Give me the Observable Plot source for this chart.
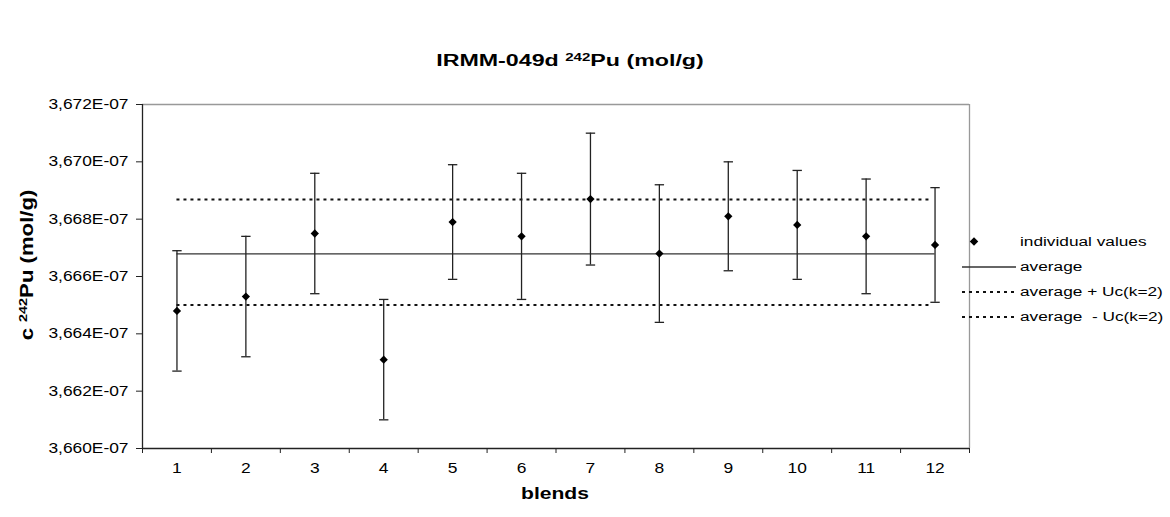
<!DOCTYPE html>
<html>
<head>
<meta charset="utf-8">
<script src="https://cdn.jsdelivr.net/npm/d3@7"></script>
<script src="https://cdn.jsdelivr.net/npm/@observablehq/plot@0.6"></script>
<style>
  html, body { margin: 0; padding: 0; background: #fff; }
  #wrap { position: relative; width: 1170px; height: 517px; font-family: "Liberation Sans", Arial, sans-serif; color: #000; }
  #wrap svg.plot { position: absolute; left: 0; top: 0; }
  .title { position: absolute; top: 52px; left: 570px; transform: translateX(-50%) scaleX(1.45); font-weight: bold; font-size: 16px; white-space: nowrap; }
  .ylabel { position: absolute; left: 27px; top: 265px; transform: translate(-50%, -50%) rotate(-90deg) scaleX(1.23); font-weight: bold; font-size: 18px; white-space: nowrap; }
  .xlabel { position: absolute; left: 555px; top: 484px; transform: translateX(-50%) scaleX(1.24); font-weight: bold; font-size: 17px; white-space: nowrap; }
  sup { font-size: 65%; vertical-align: 0.5em; line-height: 0; }
  .legend { position: absolute; left: 958px; top: 229px; font-size: 12.5px; }
  .legend .row { display: flex; align-items: center; height: 25px; }
  .legend svg { width: 58px; height: 20px; margin-right: 4px; flex: none; }
  .legend span { display: inline-block; transform: scaleX(1.38); transform-origin: 0 50%; white-space: pre; }
</style>
</head>
<body>
<div id="wrap">
  <div class="title">IRMM-049d <sup>242</sup>Pu (mol/g)</div>
  <div class="ylabel">c <sup>242</sup>Pu (mol/g)</div>
  <div class="xlabel">blends</div>
  <div class="legend" id="legend"></div>
</div>
<script>
const blends = [1, 2, 3, 4, 5, 6, 7, 8, 9, 10, 11, 12];
const values = [3.6648e-7, 3.6653e-7, 3.6675e-7, 3.6631e-7, 3.6679e-7, 3.6674e-7, 3.6687e-7, 3.6668e-7, 3.6681e-7, 3.6678e-7, 3.6674e-7, 3.6671e-7];
const uncertainties = [2.1e-10, 2.1e-10, 2.1e-10, 2.1e-10, 2.0e-10, 2.2e-10, 2.3e-10, 2.4e-10, 1.9e-10, 1.9e-10, 2.0e-10, 2.0e-10];
const average = 3.66679e-7;
const averagePlusU = 3.66869e-7;
const averageMinusU = 3.66501e-7;
const yTicks = [3.660e-7, 3.662e-7, 3.664e-7, 3.666e-7, 3.668e-7, 3.670e-7, 3.672e-7];
const xBounds = [0.5, 1.5, 2.5, 3.5, 4.5, 5.5, 6.5, 7.5, 8.5, 9.5, 10.5, 11.5, 12.5];
const legendLabels = ["individual values", "average", "average + Uc(k=2)", "average  - Uc(k=2)"];

const data = blends.map((b, i) => ({blend: b, value: values[i], lo: values[i] - uncertainties[i], hi: values[i] + uncertainties[i]}));
const yFmt = d => (d * 1e7).toFixed(3).replace(".", ",") + "E-07";
const capHalf = 0.068;
const ink = "#222";

const chart = Plot.plot({
  width: 1170,
  height: 517,
  marginLeft: 142,
  marginRight: 201,
  marginTop: 104,
  marginBottom: 69,
  style: {fontFamily: "'Liberation Sans', Arial, sans-serif", fontSize: "14px", color: "#000", background: "transparent"},
  x: {domain: [0.5, 12.5], axis: null},
  y: {domain: [yTicks[0], yTicks[yTicks.length - 1]], axis: null},
  marks: [
    Plot.axisY({ticks: yTicks, tickFormat: yFmt, tickSize: 6, tickPadding: 8, fontSize: 14, stroke: ink, label: null}),
    Plot.axisX({ticks: xBounds, tickFormat: () => "", tickSize: 5, stroke: ink, label: null}),
    Plot.axisX({ticks: blends, tickFormat: d => String(d), tickSize: 0, tickPadding: 15, fontSize: 14, label: null}),
    Plot.ruleY([yTicks[yTicks.length - 1]], {stroke: "#999", strokeWidth: 1.3}),
    Plot.ruleX([xBounds[xBounds.length - 1]], {stroke: "#999", strokeWidth: 1.3}),
    Plot.ruleX([xBounds[0]], {stroke: ink, strokeWidth: 1.3}),
    Plot.ruleY([yTicks[0]], {stroke: ink, strokeWidth: 1.3}),
    Plot.ruleY([average], {x1: blends[0], x2: blends[blends.length - 1], stroke: "#333", strokeWidth: 1.3}),
    Plot.ruleY([averagePlusU, averageMinusU], {x1: blends[0], x2: blends[blends.length - 1] - 0.05, stroke: "#111", strokeWidth: 2, strokeDasharray: "3,4"}),
    Plot.ruleX(data, {x: "blend", y1: "lo", y2: "hi", stroke: ink, strokeWidth: 1.3}),
    Plot.link(data, {x1: d => d.blend - capHalf, x2: d => d.blend + capHalf, y1: "hi", y2: "hi", stroke: ink, strokeWidth: 1.3}),
    Plot.link(data, {x1: d => d.blend - capHalf, x2: d => d.blend + capHalf, y1: "lo", y2: "lo", stroke: ink, strokeWidth: 1.3}),
    Plot.dot(data, {x: "blend", y: "value", symbol: "square", rotate: 45, r: 3.3, fill: "#000", stroke: "none"})
  ]
});
chart.classList.add("plot");
document.getElementById("wrap").prepend(chart);

// widen tick label glyphs horizontally, like the original's stretched text
chart.querySelectorAll("text").forEach(t => {
  const w = t.getComputedTextLength();
  if (w > 0) {
    t.setAttribute("textLength", (w * 1.24).toFixed(1));
    t.setAttribute("lengthAdjust", "spacingAndGlyphs");
  }
});

// legend
const leg = document.getElementById("legend");
const swatches = [
  '<svg viewBox="0 0 58 20"><rect x="13" y="6.5" width="6" height="6" fill="#000" transform="rotate(45 16 9.5)"/></svg>',
  '<svg viewBox="0 0 58 20"><line x1="4" x2="58" y1="10" y2="10" stroke="#333" stroke-width="1.3"/></svg>',
  '<svg viewBox="0 0 58 20"><line x1="4" x2="58" y1="10" y2="10" stroke="#111" stroke-width="2" stroke-dasharray="3,4"/></svg>',
  '<svg viewBox="0 0 58 20"><line x1="4" x2="58" y1="10" y2="10" stroke="#111" stroke-width="2" stroke-dasharray="3,4"/></svg>'
];
legendLabels.forEach((lab, i) => {
  const row = document.createElement("div");
  row.className = "row";
  row.innerHTML = swatches[i] + '<span>' + lab + '</span>';
  leg.appendChild(row);
});
</script>
</body>
</html>
